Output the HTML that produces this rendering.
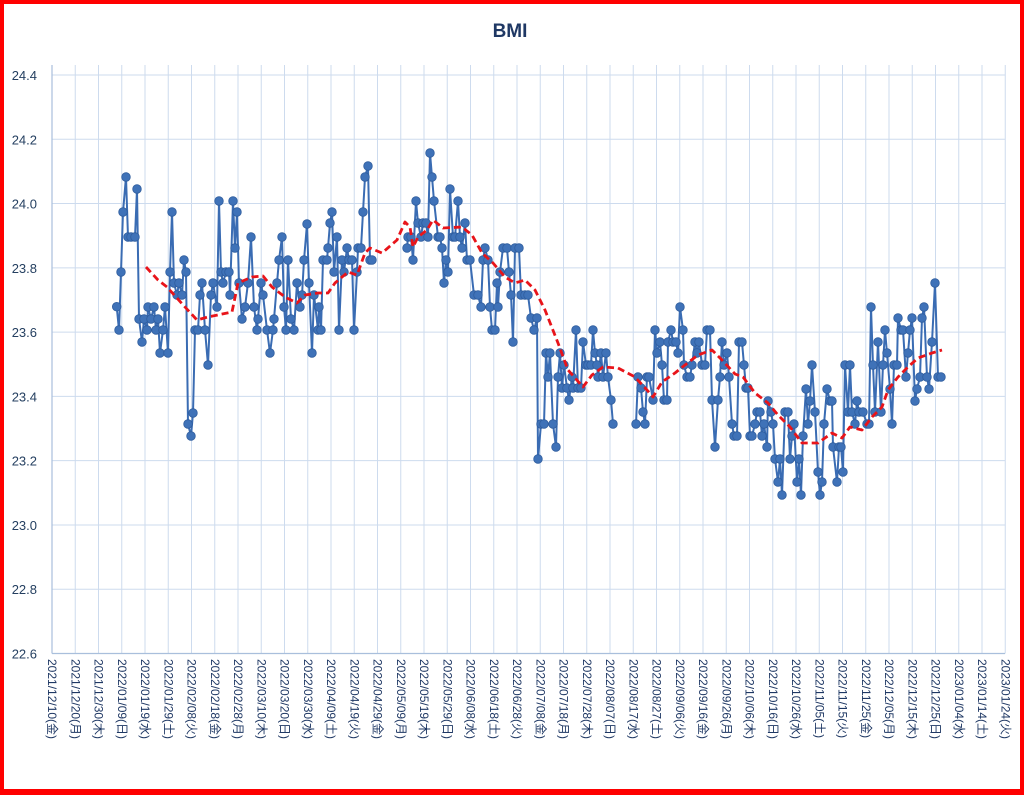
<!DOCTYPE html>
<html><head><meta charset="utf-8"><style>
html,body{margin:0;padding:0;background:#fff}
#w{width:1024px;height:795px;box-sizing:border-box;border:4px solid #f00;border-bottom-width:6px;position:relative;overflow:hidden;background:#fff}
svg{position:absolute;left:-4px;top:-4px}
</style></head><body><div id="w"><svg id="s" width="1024" height="795" xmlns="http://www.w3.org/2000/svg"></svg></div>
<script>
var s=document.getElementById('s'),h='';
h+='<text x="510" y="37" text-anchor="middle" font-family="Liberation Sans,sans-serif" font-weight="bold" font-size="19" fill="#1f3864">BMI</text>';
var L=52,R=1005,T=65,B=653.5,dx=23.25,dy=64.28;
for(var i=0;i<=41;i++){var x=L+i*dx;h+='<line x1="'+x+'" y1="'+T+'" x2="'+x+'" y2="'+B+'" stroke="#cddbee" stroke-width="1"/>';}
var yl=['22.6','22.8','23.0','23.2','23.4','23.6','23.8','24.0','24.2','24.4'];
for(var j=0;j<10;j++){var y=B-j*dy;h+='<line x1="'+L+'" y1="'+y+'" x2="'+R+'" y2="'+y+'" stroke="#cddbee" stroke-width="1"/>';
h+='<text x="37" y="'+(y+5)+'" text-anchor="end" font-family="Liberation Sans,sans-serif" font-size="13" fill="#243f60">'+yl[j]+'</text>';}
h+='<line x1="'+L+'" y1="'+T+'" x2="'+L+'" y2="'+B+'" stroke="#a9bfdc" stroke-width="1.2"/>';
h+='<line x1="'+L+'" y1="'+B+'" x2="'+R+'" y2="'+B+'" stroke="#a9bfdc" stroke-width="1.2"/>';
var wd=['日','月','火','水','木','金','土'];
var d0=new Date(2021,11,10);
for(var i=0;i<=41;i++){var d=new Date(d0.getTime()+i*10*86400000);
var t=d.getFullYear()+'/'+('0'+(d.getMonth()+1)).slice(-2)+'/'+('0'+d.getDate()).slice(-2)+'('+wd[d.getDay()]+')';
var x=L+i*dx;h+='<text transform="translate('+(x-4)+',659) rotate(90)" font-family="Liberation Sans,Noto Sans CJK JP,sans-serif" font-size="12" fill="#1f3864">'+t+'</text>';}
var segs=[
[[116.7,306.7],[119,330],[121,272],[123,212],[126,177],[128,237],[131,237],[135,237],[137,189],[139,319],[142,342],[144,319],[147,330],[148,307],[151,319],[154,307],[156,330],[158,319],[160,353],[163,330],[165,307],[168,353],[170,272],[172,212],[174,283],[177,295],[179,283],[182,295],[184,260],[186,272],[188,424],[191,436],[193,413],[195,330],[198,330],[200,295],[202,283],[205,330],[208,365],[211,295],[213,283],[217,307],[219,201],[221,272],[223,283],[226,272],[229,272],[230,295],[233,201],[235,248],[237,212],[239,283],[242,319],[245,307],[248,283],[251,237],[254,307],[257,330],[258,319],[261,283],[263,295],[267,330],[270,353],[273,330],[274,319],[277,283],[279,260],[282,237],[284,307],[286,330],[288,260],[291,319],[294,330],[297,283],[300,307],[302,295],[304,260],[307,224],[309,283],[312,353],[314,295],[318,330],
[319,307],[321,330],[323,260],[327,260],[328,248],[330,223],[332,212],[334,272],[337,237],[339,330],[342,260],[344,272],[347,248],[349,260],[352,260],[354,330],[357,272],[358,248],[361,248],[363,212],[365,177],[368,166],[370,260],[372,260]],
[[407,248],[408,237],[411,237],[413,260],[416,201],[418,223],[421,237],[423,223],[426,223],[428,237],[430,153],[432,177],[434,201],[438,237],[440,237],[442,248],[444,283],[446,260],[448,272],[450,189],[453,237],[455,237],[458,201],[460,237],[462,248],[465,223],[467,260],[470,260],[474,295],[478,295],[481,307],[483,260],[485,248],[488,260],[490,307],[492,330],[495,330],[497,283],[498,307],[500,272],[503,248],[507,248],[509,272],[511,295],[513,342],[515,248],[519,248],[521,295],[525,295],[528,295],[531,318],[534,330],[537,318],[538,459],[541,424],[544,424],[546,353],[548,377],[550,353],[553,424],[556,447],[558,377],[560,353],[562,388],[564,365],[567,388],[569,400],[572,377],[573,388],[576,330],[578,388],[581,388],[583,342],[586,365],[588,365],[591,365],[593,330],[595,353],[597,365],[598,377],[601,353],[603,377],[606,353],[608,377],[611,400],[613,424]],
[[636,424],[638,377],[641,388],[643,412],[645,424],[647,377],[649,377],[653,400],[655,330],[657,353],[660,342],[662,365],[664,400],[667,400],[668,342],[671,330],[673,342],[676,342],[678,353],[680,307],[683,330],[684,365],[687,377],[690,377],[692,365],[695,342],[697,353],[699,342],[702,365],[705,365],[707,330],[710,330],[712,400],[715,447],[718,400],[720,377],[722,342],[724,365],[727,353],[729,377],[732,424],[734,436],[737,436],[739,342],[742,342],[744,365],[746,388],[748,388],[750,436],[752,436],[755,424],[757,412],[760,412],[762,436],[764,424],[767,447],[768,401],[771,412],[773,424],[775,459],[778,482],[780,459],[782,495],[785,412],[788,412],[790,459],[792,436],[794,424],[797,482],[799,459],[801,495],[803,436],[806,389],[808,424],[810,401],[812,365],[815,412],[818,472],[820,495],[822,482],[824,424],[827,389],[830,401],[832,401],[833,447],[837,482],[839,447],[841,447],[843,472],[845,365],[848,412],[850,365],[852,412],[855,424],[857,401],[859,412],[863,412],[867,424],[869,424],[871,307],[873,365],[875,412],[878,342],[881,412],[883,365],[885,330],[887,353],[890,389],[892,424],[894,365],[897,365],[898,318],[901,330],[903,330],[906,377],[908,353],[910,330],[912,318],[915,401],[917,389],[920,377],[922,318],[924,307],[927,377],[929,389],[932,342],[935,283],[938,377],[941,377]]];
var red=[[146,267],[158,280],[167,287],[185,307],[197,320],[208,317],[232,312],[238,283],[252,277],[263,276],[272,287],[285,297],[297,303],[305,295],[318,293],[328,293],[335,283],[348,272],[357,275],[365,253],[370,248],[382,253],[397,240],[405,222],[410,227],[413,247],[418,237],[427,230],[433,220],[443,228],[462,227],[472,235],[482,253],[493,263],[505,277],[515,283],[525,280],[535,290],[545,310],[558,343],[568,370],[583,387],[592,375],[603,367],[618,368],[635,377],[647,390],[653,397],[662,382],[675,373],[685,365],[698,355],[712,350],[722,360],[735,374],[743,377],[755,393],[768,403],[778,415],[790,427],[802,443],[818,443],[832,433],[842,438],[850,427],[862,430],[872,417],[882,407],[888,390],[898,377],[908,367],[918,358],[932,353],[942,350]];
var pts='',c='';
segs.forEach(function(sg){h+='<polyline fill="none" stroke="#3a6cb3" stroke-width="2" stroke-linejoin="round" points="'+sg.map(function(p){return p.join(',')}).join(' ')+'"/>';
sg.forEach(function(p){c+='<circle cx="'+p[0]+'" cy="'+p[1]+'" r="4.3" fill="#3f72b8" stroke="#2f5d9e" stroke-width="0.8"/>';});});
h+=c;
h+='<polyline fill="none" stroke="#e8141a" stroke-width="2.8" stroke-dasharray="7,4" stroke-linejoin="round" points="'+red.map(function(p){return p.join(',')}).join(' ')+'"/>';
s.innerHTML=h;
</script></body></html>
